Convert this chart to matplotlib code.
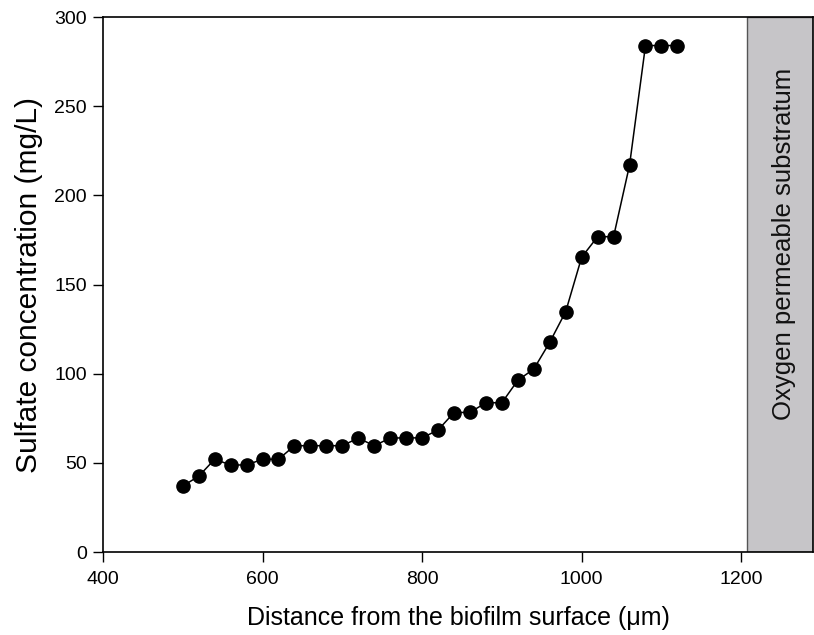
import matplotlib
matplotlib.use("Agg")
import matplotlib.pyplot as plt

plt.rcParams['font.family'] = ['Liberation Sans', 'DejaVu Sans']

distance = [500, 520, 540, 560, 580, 600, 620, 640, 660, 680, 700, 720, 740, 760, 780, 800,
            820, 840, 860, 880, 900, 920, 940, 960, 980, 1000, 1020, 1040, 1060, 1080, 1100, 1120]
sulfate = [37.0, 42.5, 52.0, 48.8, 48.8, 52.0, 52.0, 59.6, 59.6, 59.6, 59.6, 63.9, 59.6, 63.9, 64.0, 64.0,
           68.4, 78.2, 78.3, 83.7, 83.7, 96.3, 102.6, 117.6, 134.8, 165.3, 176.8, 176.8, 216.9, 284.0, 284.0, 284.0]
x_ticks = [400, 600, 800, 1000, 1200]
y_ticks = [0, 50, 100, 150, 200, 250, 300]
substratum_start = 1207
x_max = 1290

fig = plt.figure(figsize=(8.14, 6.35), dpi=100)
ax = fig.add_axes([0.1265, 0.1307, 0.8723, 0.8425])

ax.axvspan(substratum_start, x_max, facecolor='#c6c5c8', edgecolor='#555555', linewidth=1.0, zorder=0)
ax.text(1254, 173, 'Oxygen permeable substratum', rotation=90,
        ha='center', va='center', fontsize=18.5, color='#111111')

ax.plot(distance, sulfate, color='black', linewidth=1.1, marker='o', markersize=9.5,
        markerfacecolor='black', markeredgecolor='black', zorder=3)

ax.set_xlim(400, x_max)
ax.set_ylim(0, 300)
ax.set_xticks(x_ticks)
ax.set_yticks(y_ticks)
ax.tick_params(direction='out', length=7.5, width=1.0, labelsize=14, colors='black')
ax.tick_params(axis='x', pad=6)
ax.tick_params(axis='y', pad=4)
for s in ax.spines.values():
    s.set_linewidth(1.2)
    s.set_color('black')

ax.set_xlabel('Distance from the biofilm surface (μm)', fontsize=18, labelpad=13)
ax.set_ylabel('Sulfate concentration (mg/L)', fontsize=21.5, labelpad=8)

fig.savefig('out.png', dpi=100)
